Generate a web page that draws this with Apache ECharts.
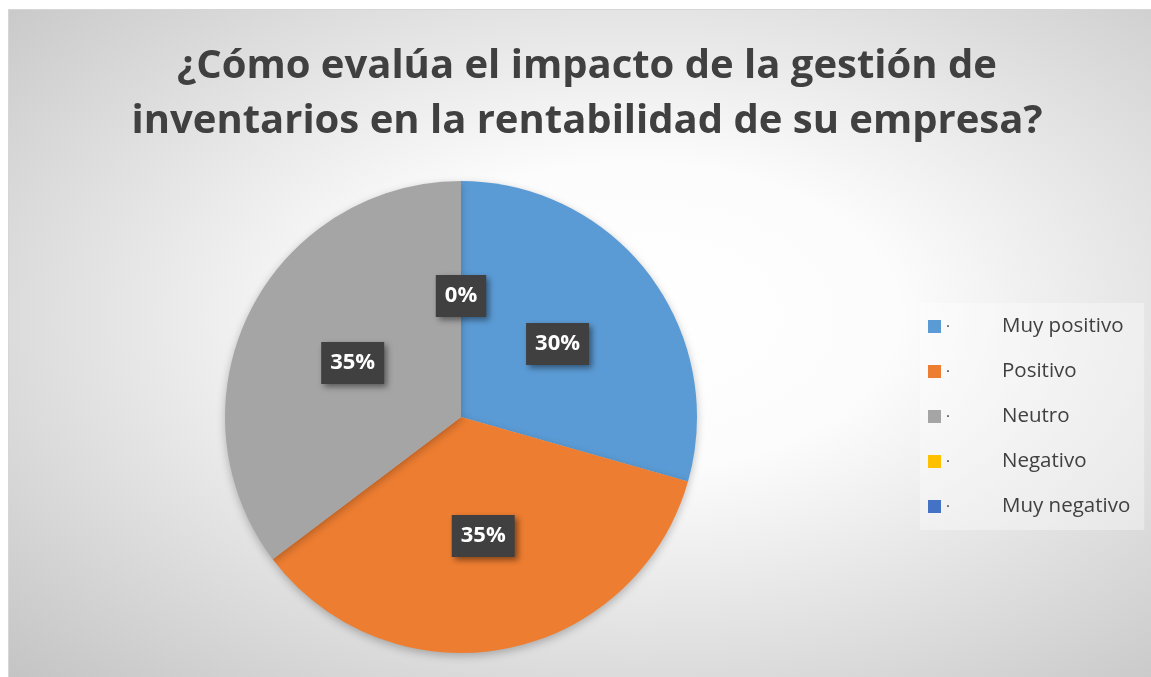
<!DOCTYPE html>
<html>
<head>
<meta charset="utf-8">
<script src="https://cdn.jsdelivr.net/npm/echarts@6/dist/echarts.min.js"></script>
<style>
    html, body { margin: 0; padding: 0; background: #ffffff; overflow: hidden; width: 1151px; height: 677px; }
    #frame {
        position: absolute; left: 9px; top: 10px; width: 1156px; height: 667px;
        background: radial-gradient(ellipse farthest-corner at 54% 46%, #ffffff 0%, #fcfcfc 30%, #c4c4c4 100%);
        outline: 1px solid #d6d6d6;
    }
    #main { position: absolute; left: 9px; top: 10px; width: 1156px; height: 667px; }
</style>
</head>
<body>
<div id="frame"></div>
<div id="main"></div>
<script>
var titleText = '¿Cómo evalúa el impacto de la gestión de\ninventarios en la rentabilidad de su empresa?';
var categories = ['Muy positivo', 'Positivo', 'Neutro', 'Negativo', 'Muy negativo'];
// respuestas (5/17 ≈ 30%, 6/17 ≈ 35%)
var values = [5, 6, 6, 0, 0];
var colors = ['#5B9BD5', '#ED7D31', '#A5A5A5', '#FFC000', '#4472C4'];

initChart();

function initChart() {
    var dom = document.getElementById('main');
    var myChart = echarts.init(dom);

    var data = [];
    for (var i = 0; i < categories.length; i++) {
        data.push({ name: categories[i], value: values[i], itemStyle: { color: colors[i] } });
    }

    var option = {
        animation: false,
        title: {
            text: titleText,
            left: 'center',
            top: 24,
            textStyle: {
                fontFamily: 'Open Sans',
                fontWeight: 'bold',
                fontSize: 40,
                lineHeight: 55,
                color: '#404040'
            }
        },
        legend: {
            orient: 'vertical',
            left: 911,
            top: 293,
            padding: [13, 14, 13, 8],
            backgroundColor: 'rgba(255,255,255,0.35)',
            icon: 'rect',
            itemWidth: 13,
            itemHeight: 13,
            itemGap: 24,
            data: categories,
            formatter: function (name) {
                return '{dot|·}' + name;
            },
            textStyle: {
                fontFamily: 'Open Sans',
                fontSize: 20.5,
                lineHeight: 20,
                color: '#404040',
                rich: {
                    dot: { width: 56, fontSize: 15, color: '#404040' }
                }
            }
        },
        series: [
            {
                type: 'pie',
                center: [452, 407],
                radius: 236,
                startAngle: 90,
                clockwise: true,
                percentPrecision: 0,
                avoidLabelOverlap: false,
                itemStyle: {
                    shadowBlur: 8,
                    shadowColor: 'rgba(0,0,0,0.25)',
                    shadowOffsetY: 3
                },
                label: {
                    show: true,
                    position: 'inside',
                    formatter: '{d}%',
                    fontFamily: 'Open Sans',
                    fontWeight: 'bold',
                    fontSize: 22,
                    lineHeight: 24,
                    color: '#ffffff',
                    backgroundColor: '#404040',
                    padding: [9, 9],
                    shadowBlur: 6,
                    shadowColor: 'rgba(0,0,0,0.45)',
                    shadowOffsetX: 3,
                    shadowOffsetY: 3
                },
                labelLine: { show: false },
                emphasis: { disabled: true },
                data: data
            }
        ]
    };

    if (option && typeof option === 'object') {
        myChart.setOption(option);
        window.addEventListener('resize', function () {
            myChart.resize();
        });
    }
}
</script>
</body>
</html>
